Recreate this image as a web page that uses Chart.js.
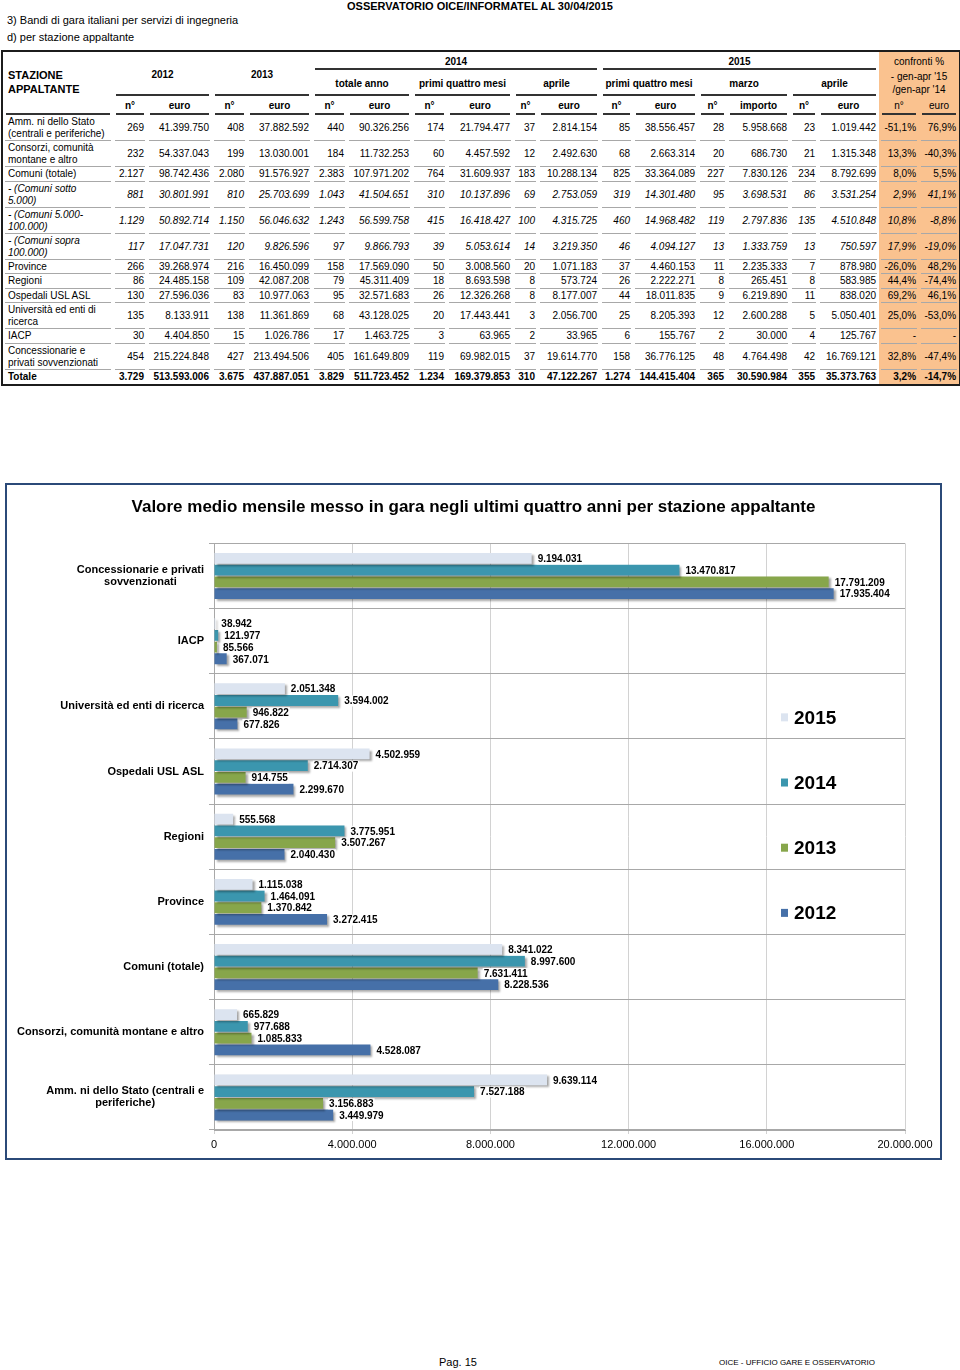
<!DOCTYPE html>
<html>
<head>
<meta charset="utf-8">
<script src="https://cdn.jsdelivr.net/npm/chart.js@4.4.0/dist/chart.umd.min.js"></script>
<style>
  body { margin: 0; background: #fff; font-family: "Liberation Sans", Arial, sans-serif; color: #000; }
  #page { position: relative; width: 960px; height: 1370px; overflow: hidden; }
  .txt { position: absolute; white-space: nowrap; line-height: 14px; }
  #tblwrap { position: absolute; left: 1px; top: 50px; border: 2px solid #1c1c1c; }
  table { width: 956px; table-layout: fixed; border-collapse: collapse; font-size: 10px; }
  td, th { padding: 0 3px; overflow: hidden; white-space: nowrap; }
  th { font-weight: bold; text-align: center; line-height: 13px; }
  td { text-align: right; line-height: 12px; }
  td.lab { text-align: left; white-space: pre-line; padding-left: 5px; }
  .ul { background-image: linear-gradient(#a8a8a8, #a8a8a8); background-repeat: no-repeat;
        background-size: calc(100% - 4px) 1px; background-position: 2px 100%; }
  .uh { background-image: linear-gradient(#333, #333); background-repeat: no-repeat;
        background-size: calc(100% - 6px) 2px; background-position: 3px 100%; }
  .or { background-color: #fac28f; }
  .reg { font-weight: normal; }
  tr.it td { font-style: italic; }
  tr.tot td { font-weight: bold; }
  #frame { position: absolute; left: 5px; top: 483px; width: 933px; height: 673px; border: 2px solid #2b4a78; }
  #chart { display: block; }
</style>
</head>
<body>
<div id="page">
  <div class="txt" style="left:347px;top:-1px;font-size:11px;font-weight:bold;">OSSERVATORIO OICE/INFORMATEL AL 30/04/2015</div>
  <div class="txt" style="left:7px;top:13px;font-size:11px;">3) Bandi di gara italiani per servizi di ingegneria</div>
  <div class="txt" style="left:7px;top:30px;font-size:11px;">d) per stazione appaltante</div>

  <div id="tblwrap">
    <table id="tbl">
      <colgroup>
        <col style="width:110px"><col style="width:34px"><col style="width:65px"><col style="width:35px"><col style="width:65px">
        <col style="width:35px"><col style="width:65px"><col style="width:35px"><col style="width:66px"><col style="width:25px"><col style="width:62px">
        <col style="width:33px"><col style="width:65px"><col style="width:29px"><col style="width:63px"><col style="width:28px"><col style="width:61px">
        <col style="width:40px"><col style="width:40px">
      </colgroup>
      <thead>
        <tr style="height:18px">
          <th rowspan="2" style="text-align:left;vertical-align:bottom;font-size:11px;line-height:14px;padding-left:5px;">STAZIONE<br>APPALTANTE</th>
          <th colspan="2" rowspan="2" class="uh">2012</th>
          <th colspan="2" rowspan="2" class="uh">2013</th>
          <th colspan="6" class="uh">2014</th>
          <th colspan="6" class="uh">2015</th>
          <th colspan="2" class="or reg">confronti %</th>
        </tr>
        <tr style="height:24px">
          <th colspan="2" class="uh">totale anno</th>
          <th colspan="2" class="uh">primi quattro mesi</th>
          <th colspan="2" class="uh">aprile</th>
          <th colspan="2" class="uh">primi quattro mesi</th>
          <th colspan="2" class="uh">marzo</th>
          <th colspan="2" class="uh">aprile</th>
          <th colspan="2" class="or reg">- gen-apr '15<br>/gen-apr '14</th>
        </tr>
        <tr style="height:19px" id="subhead"></tr>
      </thead>
      <tbody id="tbody"></tbody>
    </table>
  </div>

  <div id="frame"><canvas id="chart" width="933" height="673"></canvas></div>

  <div class="txt" style="left:439px;top:1355px;font-size:11px;">Pag. 15</div>
  <div class="txt" style="left:719px;top:1356px;font-size:8px;">OICE - UFFICIO GARE E OSSERVATORIO</div>
</div>

<script>
// Tabella
const subHeads = ['n°', 'euro', 'n°', 'euro', 'n°', 'euro', 'n°', 'euro', 'n°', 'euro', 'n°', 'euro', 'n°', 'importo', 'n°', 'euro', 'n°', 'euro'];
const tableLabels = [
  'Amm. ni dello Stato\n(centrali e periferiche)',
  'Consorzi, comunità\nmontane e altro',
  'Comuni (totale)',
  ' - (Comuni sotto\n5.000)',
  ' - (Comuni 5.000-\n100.000)',
  ' - (Comuni sopra\n100.000)',
  'Province',
  'Regioni',
  'Ospedali USL ASL',
  'Università ed enti di\nricerca',
  'IACP',
  'Concessionarie e\nprivati sovvenzionati',
  'Totale'
];
const tableRows = [
  ['269', '41.399.750', '408', '37.882.592', '440', '90.326.256', '174', '21.794.477', '37', '2.814.154', '85', '38.556.457', '28', '5.958.668', '23', '1.019.442', '-51,1%', '76,9%'],
  ['232', '54.337.043', '199', '13.030.001', '184', '11.732.253', '60', '4.457.592', '12', '2.492.630', '68', '2.663.314', '20', '686.730', '21', '1.315.348', '13,3%', '-40,3%'],
  ['2.127', '98.742.436', '2.080', '91.576.927', '2.383', '107.971.202', '764', '31.609.937', '183', '10.288.134', '825', '33.364.089', '227', '7.830.126', '234', '8.792.699', '8,0%', '5,5%'],
  ['881', '30.801.991', '810', '25.703.699', '1.043', '41.504.651', '310', '10.137.896', '69', '2.753.059', '319', '14.301.480', '95', '3.698.531', '86', '3.531.254', '2,9%', '41,1%'],
  ['1.129', '50.892.714', '1.150', '56.046.632', '1.243', '56.599.758', '415', '16.418.427', '100', '4.315.725', '460', '14.968.482', '119', '2.797.836', '135', '4.510.848', '10,8%', '-8,8%'],
  ['117', '17.047.731', '120', '9.826.596', '97', '9.866.793', '39', '5.053.614', '14', '3.219.350', '46', '4.094.127', '13', '1.333.759', '13', '750.597', '17,9%', '-19,0%'],
  ['266', '39.268.974', '216', '16.450.099', '158', '17.569.090', '50', '3.008.560', '20', '1.071.183', '37', '4.460.153', '11', '2.235.333', '7', '878.980', '-26,0%', '48,2%'],
  ['86', '24.485.158', '109', '42.087.208', '79', '45.311.409', '18', '8.693.598', '8', '573.724', '26', '2.222.271', '8', '265.451', '8', '583.985', '44,4%', '-74,4%'],
  ['130', '27.596.036', '83', '10.977.063', '95', '32.571.683', '26', '12.326.268', '8', '8.177.007', '44', '18.011.835', '9', '6.219.890', '11', '838.020', '69,2%', '46,1%'],
  ['135', '8.133.911', '138', '11.361.869', '68', '43.128.025', '20', '17.443.441', '3', '2.056.700', '25', '8.205.393', '12', '2.600.288', '5', '5.050.401', '25,0%', '-53,0%'],
  ['30', '4.404.850', '15', '1.026.786', '17', '1.463.725', '3', '63.965', '2', '33.965', '6', '155.767', '2', '30.000', '4', '125.767', '-', '-'],
  ['454', '215.224.848', '427', '213.494.506', '405', '161.649.809', '119', '69.982.015', '37', '19.614.770', '158', '36.776.125', '48', '4.764.498', '42', '16.769.121', '32,8%', '-47,4%'],
  ['3.729', '513.593.006', '3.675', '437.887.051', '3.829', '511.723.452', '1.234', '169.379.853', '310', '47.122.267', '1.274', '144.415.404', '365', '30.590.984', '355', '35.373.763', '3,2%', '-14,7%']
];
const italicRows = [3, 4, 5];

// Grafico: valore medio mensile
const categories = [
  ['Concessionarie e privati', 'sovvenzionati'],
  'IACP',
  'Università ed enti di ricerca',
  'Ospedali USL ASL',
  'Regioni',
  'Province',
  'Comuni (totale)',
  'Consorzi, comunità montane e altro',
  ['Amm. ni dello Stato (centrali e', 'periferiche)']
];
const years = ['2015', '2014', '2013', '2012'];
const values2015 = [9194031, 38942, 2051348, 4502959, 555568, 1115038, 8341022, 665829, 9639114];
const values2014 = [13470817, 121977, 3594002, 2714307, 3775951, 1464091, 8997600, 977688, 7527188];
const values2013 = [17791209, 85566, 946822, 914755, 3507267, 1370842, 7631411, 1085833, 3156883];
const values2012 = [17935404, 367071, 677826, 2299670, 2040430, 3272415, 8228536, 4528087, 3449979];
const yearColors = ['#dce4f0', '#3b96ae', '#87a64b', '#4670a8'];

// costruzione tabella
const sub = document.getElementById('subhead');
let h = '<th class="uh"></th>';
subHeads.forEach(function(s, i) {
    h += '<th class="uh' + (i >= 16 ? ' or reg' : '') + '">' + s + '</th>';
});
sub.innerHTML = h;

const tbody = document.getElementById('tbody');
let rowsHtml = '';
tableLabels.forEach(function(lab, r) {
    const last = r === tableLabels.length - 1;
    const cls = last ? 'tot' : (italicRows.includes(r) ? 'it' : '');
    const ht = lab.includes('\n') ? 26 : 14.5;
    const u = last ? '' : 'ul';
    rowsHtml += '<tr class="' + cls + '" style="height:' + ht + 'px"><td class="lab ' + u + '">' + lab + '</td>';
    tableRows[r].forEach(function(v, i) {
        rowsHtml += '<td class="' + u + (i >= 16 ? ' or' : '') + '">' + v + '</td>';
    });
    rowsHtml += '</tr>';
});
tbody.innerHTML = rowsHtml;

// formato numeri italiano
function fmt(v) {
    return String(v).replace(/\B(?=(\d{3})+(?!\d))/g, '.');
}

const FONT = '"Liberation Sans", Arial, sans-serif';

// ombra sotto le barre
const barShadow = {
    id: 'barShadow',
    beforeDatasetDraw(chart) {
        const c = chart.ctx;
        c.save();
        c.shadowColor = 'rgba(0,0,0,0.35)';
        c.shadowOffsetX = 2;
        c.shadowOffsetY = 2;
        c.shadowBlur = 2;
    },
    afterDatasetDraw(chart) {
        chart.ctx.restore();
    }
};

// etichette categorie (centrate tra loro, allineate a destra)
const catLabels = {
    id: 'catLabels',
    afterDraw(chart) {
        const c = chart.ctx;
        const yScale = chart.scales.y;
        const right = chart.chartArea.left - 10;
        c.save();
        c.font = 'bold 11px ' + FONT;
        c.fillStyle = '#000';
        c.textAlign = 'center';
        c.textBaseline = 'middle';
        categories.forEach(function(cat, i) {
            const lines = Array.isArray(cat) ? cat : [cat];
            const w = Math.max.apply(null, lines.map(l => c.measureText(l).width));
            const y0 = yScale.getPixelForValue(i) - (lines.length - 1) * 6;
            lines.forEach(function(l, k) {
                c.fillText(l, right - w / 2, y0 + k * 12);
            });
        });
        c.restore();
    }
};

// valori sulle barre
const valueLabels = {
    id: 'valueLabels',
    afterDatasetsDraw(chart) {
        const c = chart.ctx;
        c.save();
        c.font = 'bold 10px ' + FONT;
        c.textBaseline = 'middle';
        c.textAlign = 'left';
        chart.data.datasets.forEach(function(ds, i) {
            chart.getDatasetMeta(i).data.forEach(function(bar, j) {
                const t = fmt(ds.data[j]);
                const x = bar.x + 6;
                const w = c.measureText(t).width;
                c.fillStyle = '#fff';
                c.fillRect(x - 1, bar.y - 5, w + 2, 11);
                c.fillStyle = '#000';
                c.fillText(t, x, bar.y + 1);
            });
        });
        c.restore();
    }
};

// legenda a destra
const sideLegend = {
    id: 'sideLegend',
    afterDraw(chart) {
        const c = chart.ctx;
        const a = chart.chartArea;
        const band = (a.bottom - a.top) / categories.length;
        c.save();
        c.font = 'bold 19px ' + FONT;
        c.textBaseline = 'middle';
        chart.data.datasets.forEach(function(ds, i) {
            const y = a.top + band * (2.5 + i) + 11;
            const x = a.left + 567;
            c.fillStyle = ds.backgroundColor;
            c.fillRect(x, y - 4, 7, 8);
            c.fillStyle = '#000';
            c.fillText(ds.label, x + 13, y + 1);
        });
        c.restore();
    }
};

const ctx = document.getElementById('chart').getContext('2d');
new Chart(ctx, {
    type: 'bar',
    data: {
        labels: categories,
        datasets: [values2015, values2014, values2013, values2012].map(function(vals, i) {
            return {
                label: years[i],
                data: vals,
                backgroundColor: yearColors[i],
                borderWidth: 0,
                categoryPercentage: 0.72,
                barPercentage: 0.92
            };
        })
    },
    options: {
        indexAxis: 'y',
        responsive: false,
        animation: false,
        layout: { padding: { left: 35, right: 35, top: 0, bottom: 0 } },
        plugins: {
            legend: { display: false },
            tooltip: { enabled: false },
            title: {
                display: true,
                text: 'Valore medio mensile messo in gara negli ultimi quattro anni per stazione appaltante',
                color: '#000',
                font: { family: FONT, size: 17, weight: 'bold' },
                padding: { top: 12, bottom: 26 }
            }
        },
        scales: {
            x: {
                min: 0,
                max: 20000000,
                ticks: {
                    stepSize: 4000000,
                    callback: function(v) { return fmt(v); },
                    color: '#000',
                    font: { family: FONT, size: 11 },
                    padding: 4
                },
                grid: { color: '#d2d2d2', tickLength: 4 },
                border: { color: '#a8a8a8' },
                afterFit: function(s) { s.height = 28; }
            },
            y: {
                ticks: { display: false },
                grid: { color: '#a8a8a8', tickLength: 5, offset: true },
                border: { color: '#a8a8a8' },
                afterFit: function(s) { s.width = 172; }
            }
        }
    },
    plugins: [barShadow, valueLabels, catLabels, sideLegend]
});
</script>
</body>
</html>
